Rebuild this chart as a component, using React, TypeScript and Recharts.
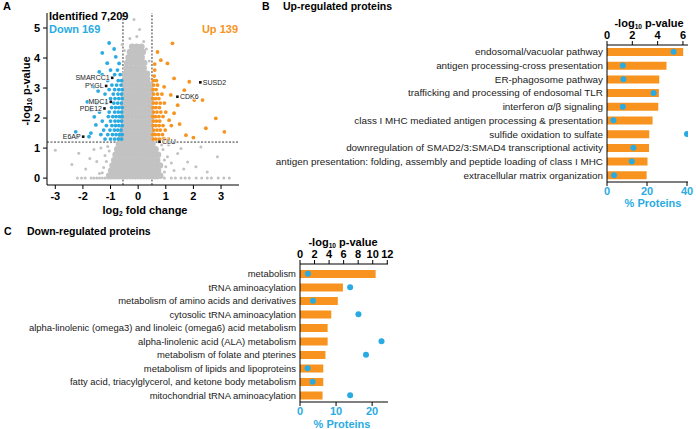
import React from "react";
import {
  ScatterChart,
  Scatter,
  XAxis,
  YAxis,
  ReferenceLine,
  ComposedChart,
  Bar,
  Line,
} from "recharts";

const ORANGE = "#F7931E";
const CYAN = "#29ABE2";
const GRAY = "#C2C2C2";
const FONT = "'Liberation Sans', Arial, Helvetica, sans-serif";

// ---- panel A: volcano plot ----
const volcanoXTicks = [-3, -2, -1, 0, 1, 2, 3];
const volcanoYTicks = [0, 1, 2, 3, 4, 5];
const foldCutoffs = [-0.55, 0.5];
const pCutoff = 1.2;

// dense grey cloud, one row per -log10 p level: [y, x values]
const grayRows: [number, number[]][] = [
  [0.08, [-1.05, -0.9, -0.74, -0.58, -0.43, -0.27, -0.12, 0.03, 0.18, 0.33, 0.49, 0.64, 0.8]],
  [0.25, [-0.98, -0.82, -0.66, -0.5, -0.35, -0.2, -0.05, 0.11, 0.26, 0.41, 0.57, 0.72]],
  [0.42, [-0.93, -0.77, -0.61, -0.46, -0.3, -0.14, 0.01, 0.17, 0.32, 0.48, 0.63, 0.79]],
  [0.6, [-0.87, -0.71, -0.55, -0.4, -0.24, -0.09, 0.07, 0.22, 0.38, 0.53, 0.69]],
  [0.78, [-0.82, -0.66, -0.5, -0.35, -0.19, -0.03, 0.12, 0.28, 0.43, 0.58, 0.72]],
  [0.96, [-0.76, -0.61, -0.45, -0.3, -0.14, 0.02, 0.17, 0.33, 0.48, 0.63]],
  [1.14, [-0.7, -0.56, -0.4, -0.25, -0.09, 0.06, 0.22, 0.37, 0.52]],
  [1.32, [-0.63, -0.48, -0.33, -0.17, -0.02, 0.14, 0.29, 0.44]],
  [1.5, [-0.57, -0.42, -0.26, -0.11, 0.05, 0.2, 0.35, 0.48]],
  [1.68, [-0.54, -0.38, -0.22, -0.07, 0.09, 0.24, 0.39]],
  [1.86, [-0.52, -0.36, -0.2, -0.04, 0.11, 0.27, 0.43]],
  [2.04, [-0.55, -0.4, -0.24, -0.08, 0.07, 0.22, 0.38, 0.49]],
  [2.22, [-0.5, -0.34, -0.18, -0.03, 0.13, 0.28, 0.44]],
  [2.4, [-0.53, -0.37, -0.21, -0.06, 0.1, 0.25, 0.41]],
  [2.58, [-0.49, -0.33, -0.17, -0.02, 0.14, 0.29, 0.45]],
  [2.76, [-0.52, -0.36, -0.2, -0.05, 0.11, 0.26, 0.42]],
  [2.94, [-0.48, -0.32, -0.16, 0.0, 0.15, 0.31, 0.46]],
  [3.12, [-0.5, -0.34, -0.19, -0.03, 0.12, 0.28, 0.43]],
  [3.3, [-0.46, -0.3, -0.14, 0.01, 0.17, 0.33]],
  [3.48, [-0.47, -0.31, -0.15, 0.0, 0.16, 0.32]],
  [3.66, [-0.43, -0.27, -0.11, 0.04, 0.2]],
  [3.84, [-0.4, -0.24, -0.08, 0.08, 0.22]],
  [4.02, [-0.35, -0.19, -0.03, 0.13]],
  [4.2, [-0.3, -0.13, 0.03, 0.17]],
  [4.38, [-0.22, -0.05, 0.12]],
];

// proteins with p = 1 sit on the zero line
const grayZeroRow = [
  -2.2, -2.05, -1.92, -1.7, -1.6, -1.5, -1.4, -1.3, -1.2, -1.1, -1.0, -0.9, -0.8, -0.7,
  -0.6, -0.5, -0.4, -0.3, -0.2, -0.1, 0, 0.1, 0.2, 0.3, 0.4, 0.5, 0.6, 0.7, 0.95, 1.2,
  1.35, 1.55, 1.7, 1.85, 2.1, 2.3, 2.5, 2.65, 2.9, 3.1, 3.3,
];

const graySparse: [number, number][] = [
  [-0.15, 5.28], [0.05, 4.95], [-0.3, 4.65], [0.2, 4.55], [-0.05, 4.72], [0.3, 4.3],
  [-0.5, 4.25], [0.4, 3.9], [-0.58, 4.45],
  [-1.25, 0.35], [-1.4, 0.15], [-1.2, 0.75], [-1.5, 0.55], [-1.75, 0.65], [-1.9, 0.3],
  [-2.15, 0.83], [-3.0, 0.93], [-1.35, 1.0], [-1.1, 1.05], [-1.6, 0.95], [-2.4, 0.45],
  [-1.15, 0.55], [-1.05, 0.9], [-1.3, 0.18],
  [0.95, 0.2], [1.0, 0.38], [1.06, 0.71], [0.9, 0.95], [1.2, 0.5], [1.43, 0.82],
  [1.55, 0.99], [1.79, 0.54], [2.09, 0.38], [2.27, 1.04], [2.87, 0.71], [1.3, 0.25],
  [0.85, 1.1], [1.1, 1.1], [0.95, 0.6], [1.65, 0.3], [2.5, 0.2],
];

const downRows: [number, number[]][] = [
  [1.3, [-0.6, -0.72, -0.85, -1.0, -1.2]],
  [1.45, [-0.58, -0.68, -0.8, -0.93, -1.1, -1.35]],
  [1.6, [-0.62, -0.74, -0.86, -1.02, -1.25]],
  [1.75, [-0.58, -0.7, -0.82, -0.95, -1.15]],
  [1.9, [-0.6, -0.72, -0.84, -1.0, -1.3]],
  [2.05, [-0.58, -0.68, -0.8, -0.92, -1.08]],
  [2.2, [-0.6, -0.72, -0.85, -1.05, -1.4]],
  [2.35, [-0.58, -0.7, -0.82, -0.96]],
  [2.5, [-0.61, -0.74, -0.88, -1.15, -1.5]],
  [2.65, [-0.58, -0.7, -0.84, -1.0]],
  [2.8, [-0.6, -0.73, -0.9, -1.2]],
  [2.95, [-0.58, -0.7, -0.85, -1.05]],
  [3.1, [-0.62, -0.78, -0.95]],
  [3.25, [-0.6, -0.72, -1.1]],
  [3.45, [-0.65, -0.85, -1.3]],
  [3.6, [-0.75, -1.0]],
];

const downSparse: [number, number][] = [
  [-1.05, 4.5], [-0.87, 4.3], [-1.3, 4.17], [-0.81, 4.04], [-1.12, 3.83], [-1.41, 3.54],
  [-0.69, 3.82], [-2.26, 1.54], [-2.2, 1.38], [-1.78, 1.38], [-1.71, 1.5], [-1.84, 2.54],
  [-1.71, 2.27], [-1.59, 2.04], [-1.53, 1.77], [-1.45, 2.9], [-1.6, 3.05],
];

const upRows: [number, number[]][] = [
  [1.3, [0.55, 0.65, 0.78, 0.92, 1.1]],
  [1.45, [0.53, 0.62, 0.74, 0.88]],
  [1.6, [0.56, 0.68, 0.8, 0.98]],
  [1.75, [0.54, 0.64, 0.76, 0.9, 1.2]],
  [1.9, [0.55, 0.66, 0.78]],
  [2.05, [0.53, 0.63, 0.75, 0.9]],
  [2.2, [0.56, 0.68, 0.82, 1.0]],
  [2.35, [0.54, 0.64, 0.77]],
  [2.5, [0.55, 0.66, 0.8, 0.95]],
  [2.65, [0.53, 0.63, 0.75]],
  [2.8, [0.56, 0.7, 0.86]],
  [2.95, [0.54, 0.65]],
  [3.1, [0.56, 0.7]],
  [3.25, [0.55, 0.66]],
  [3.4, [0.58]],
  [3.6, [0.6]],
];

const upSparse: [number, number][] = [
  [1.24, 4.49], [1.06, 3.82], [0.82, 3.93], [1.3, 3.32], [1.67, 2.93], [1.85, 3.21],
  [2.03, 2.6], [2.33, 2.6], [2.81, 1.99], [2.45, 1.66], [3.12, 1.54], [1.73, 1.43],
  [1.3, 2.16], [1.12, 1.93], [1.43, 2.43], [1.18, 2.77], [0.94, 3.04], [0.7, 4.2],
  [0.6, 3.8], [1.5, 1.8], [2.0, 1.35], [0.95, 1.3],
];

const labelledNames = ["SMARCC1", "PYGL", "MDC1", "PDE12", "E6AP", "CLU", "CDK6", "SUSD2"];
const labelledFold = [-0.94, -1.16, -0.99, -1.22, -1.99, 0.77, 1.42, 2.25];
const labelledLogP = [3.34, 3.07, 2.54, 2.32, 1.38, 1.21, 2.71, 3.19];

// ---- panels B and C: pathway enrichment ----
const upPathways = [
  "endosomal/vacuolar pathway",
  "antigen processing-cross presentation",
  "ER-phagosome pathway",
  "trafficking and processing of endosomal TLR",
  "interferon α/β signaling",
  "class I MHC mediated antigen processing & presentation",
  "sulfide oxidation to sulfate",
  "downregulation of SMAD2/3:SMAD4 transcriptional activity",
  "antigen presentation: folding, assembly and peptide loading of class I MHC",
  "extracellular matrix organization",
];
const upLogP = [6.02, 4.7, 4.13, 4.1, 4.05, 3.6, 3.34, 3.32, 3.2, 3.13];
const upPct = [33.3, 7.9, 8.2, 23.3, 7.9, 3.2, 40, 13.2, 12.4, 3.5];

const downPathways = [
  "metabolism",
  "tRNA aminoacylation",
  "metabolism of amino acids and derivatives",
  "cytosolic tRNA aminoacylation",
  "alpha-linolenic (omega3) and linoleic (omega6) acid metabolism",
  "alpha-linolenic acid (ALA) metabolism",
  "metabolism of folate and pterines",
  "metabolism of lipids and lipoproteins",
  "fatty acid, triacylglycerol, and ketone body metabolism",
  "mitochondrial tRNA aminoacylation",
];
const downLogP = [10.4, 5.9, 5.2, 4.3, 3.8, 3.8, 3.5, 3.2, 3.2, 3.1];
const downPct: (number | null)[] = [2.2, 13.9, 3.6, 16.2, null, 22.6, 18.3, 2.1, 3.5, 13.9];

const fromRows = (rows: [number, number[]][]) =>
  rows.flatMap(([y, xs]) => xs.map((x) => ({ x, y })));
const fromPairs = (pairs: [number, number][]) => pairs.map(([x, y]) => ({ x, y }));

const grayCore = fromRows(grayRows);
const grayZero = grayZeroRow.map((x) => ({ x, y: 0 }));
const grayOuter = fromPairs(graySparse);
const downPts = [...fromRows(downRows), ...fromPairs(downSparse)];
const upPts = [...fromRows(upRows), ...fromPairs(upSparse)];
const labelled = labelledNames.map((name, i) => ({
  name,
  x: labelledFold[i],
  y: labelledLogP[i],
}));

const upData = upPathways.map((name, i) => ({ name, p: upLogP[i], pct: upPct[i] }));
const downData = downPathways.map((name, i) => ({ name, p: downLogP[i], pct: downPct[i] }));

const dot = (r: number, fill: string) => (props: any) =>
  props.cx == null ? <g /> : <circle cx={props.cx} cy={props.cy} r={r} fill={fill} />;

const labelShape = (props: any) => {
  if (props.cx == null) return <g />;
  const left = props.payload.x < 0;
  return (
    <g>
      <rect x={props.cx - 1.3} y={props.cy - 1.3} width={2.6} height={2.6} fill="#111" />
      <text
        x={left ? props.cx - 2.5 : props.cx + 2.5}
        y={props.cy}
        dy="0.35em"
        textAnchor={left ? "end" : "start"}
        fontSize={7}
        fontFamily={FONT}
        fill="#222"
        stroke="#fff"
        strokeWidth={1.2}
        paintOrder="stroke"
      >
        {props.payload.name}
      </text>
    </g>
  );
};

const boldTick = (color: string) => ({
  fontSize: 11,
  fontWeight: 700,
  fill: color,
  fontFamily: FONT,
});

function Txt({
  x,
  y,
  align = "left",
  size = 11,
  bold = true,
  color = "#000",
  rotate = false,
  children,
}: any) {
  const tx = align === "center" ? "-50%" : align === "right" ? "-100%" : "0";
  return (
    <div
      style={{
        position: "absolute",
        left: x,
        top: y,
        transform: rotate
          ? "translate(-50%, -50%) rotate(-90deg)"
          : `translate(${tx}, -50%)`,
        fontSize: size,
        fontWeight: bold ? 700 : 400,
        color,
        whiteSpace: "nowrap",
        lineHeight: 1,
        fontFamily: FONT,
      }}
    >
      {children}
    </div>
  );
}

const sub = { fontSize: "0.6em", verticalAlign: "-0.25em" };

function Volcano() {
  return (
    <div style={{ position: "absolute", left: 0, top: 0 }}>
      <ScatterChart
        width={245}
        height={215}
        margin={{ top: 13, right: 6, bottom: 10, left: 17 }}
      >
        <XAxis
          type="number"
          dataKey="x"
          domain={[-3.3, 3.65]}
          ticks={volcanoXTicks}
          allowDataOverflow
          height={20}
          tickSize={4}
          tickMargin={3}
          axisLine={{ stroke: "#000" }}
          tickLine={{ stroke: "#000" }}
          tick={boldTick("#000")}
        />
        <YAxis
          type="number"
          dataKey="y"
          domain={[-0.23, 5.5]}
          ticks={volcanoYTicks}
          allowDataOverflow
          width={30}
          tickSize={4}
          tickMargin={3}
          axisLine={{ stroke: "#000" }}
          tickLine={{ stroke: "#000" }}
          tick={boldTick("#000")}
        />
        <Scatter data={grayCore} shape={dot(3.2, GRAY)} isAnimationActive={false} />
        <Scatter data={grayOuter} shape={dot(1.5, GRAY)} isAnimationActive={false} />
        <Scatter data={grayZero} shape={dot(1.5, GRAY)} isAnimationActive={false} />
        <Scatter data={downPts} shape={dot(1.9, CYAN)} isAnimationActive={false} />
        <Scatter data={upPts} shape={dot(1.9, ORANGE)} isAnimationActive={false} />
        {foldCutoffs.map((v) => (
          <ReferenceLine key={v} x={v} stroke="#222" strokeDasharray="2 1.5" strokeWidth={0.9} />
        ))}
        <ReferenceLine y={pCutoff} stroke="#222" strokeDasharray="2 1.5" strokeWidth={0.9} />
        <Scatter data={labelled} shape={labelShape} isAnimationActive={false} />
      </ScatterChart>
    </div>
  );
}

function Enrichment({
  data,
  left,
  top,
  width,
  height,
  yWidth,
  labelSize,
  pDomain,
  pTicks,
  pctDomain,
  pctTicks,
  padTop,
}: any) {
  const catTick = (props: any) => (
    <text
      x={props.x}
      y={props.y}
      dy="0.35em"
      textAnchor="end"
      fontSize={labelSize}
      fontFamily={FONT}
      fill="#1a1a1a"
    >
      {props.payload.value}
    </text>
  );
  return (
    <div style={{ position: "absolute", left, top }}>
      <ComposedChart
        layout="vertical"
        width={width}
        height={height}
        data={data}
        margin={{ top: 0, right: 8, bottom: 0, left: 0 }}
        barCategoryGap={0}
      >
        <XAxis
          xAxisId="p"
          orientation="top"
          type="number"
          domain={pDomain}
          ticks={pTicks}
          allowDataOverflow
          height={30}
          tickSize={4}
          tickMargin={2}
          interval={0}
          axisLine={{ stroke: "#000" }}
          tickLine={{ stroke: "#000" }}
          tick={boldTick("#000")}
        />
        <XAxis
          xAxisId="pct"
          orientation="bottom"
          type="number"
          domain={pctDomain}
          ticks={pctTicks}
          allowDataOverflow
          height={20}
          tickSize={4}
          tickMargin={1}
          axisLine={{ stroke: "#000" }}
          tickLine={{ stroke: "#000" }}
          tick={boldTick(CYAN)}
        />
        <YAxis
          type="category"
          dataKey="name"
          width={yWidth}
          interval={0}
          tickSize={0}
          tickMargin={4}
          tickLine={false}
          axisLine={{ stroke: "#000" }}
          padding={{ top: padTop, bottom: 0 }}
          tick={catTick}
        />
        <Bar xAxisId="p" dataKey="p" fill={ORANGE} barSize={8} isAnimationActive={false} />
        <Line
          xAxisId="pct"
          dataKey="pct"
          stroke="none"
          dot={{ r: 3, fill: CYAN, stroke: "none" }}
          activeDot={false}
          isAnimationActive={false}
        />
      </ComposedChart>
    </div>
  );
}

export default function App() {
  return (
    <div
      style={{
        position: "absolute",
        left: 0,
        top: 0,
        width: 696,
        height: 429,
        background: "#fff",
        overflow: "hidden",
        fontFamily: FONT,
      }}
    >
      <Volcano />
      <Txt x={3} y={6} size={11}>A</Txt>
      <Txt x={49} y={16} size={11}>Identified 7,209</Txt>
      <Txt x={49} y={29} size={11} color={CYAN}>Down 169</Txt>
      <Txt x={238} y={29} size={11} color={ORANGE} align="right">Up 139</Txt>
      <Txt x={27} y={91} size={11} rotate>
        -log<span style={sub}>10</span> p-value
      </Txt>
      <Txt x={145} y={211} size={11} align="center">
        log<span style={sub}>2</span> fold change
      </Txt>

      <Txt x={262} y={6} size={10.5}>B</Txt>
      <Txt x={283} y={6} size={10.5}>Up-regulated proteins</Txt>
      <Enrichment
        data={upData}
        left={266}
        top={15}
        width={430}
        height={187}
        yWidth={341}
        labelSize={9.9}
        pDomain={[0, 6.4]}
        pTicks={[0, 2, 4, 6]}
        pctDomain={[0, 40.5]}
        pctTicks={[0, 20, 40]}
        padTop={0}
      />
      <Txt x={649} y={24} size={11} align="center">
        -log<span style={sub}>10</span> p-value
      </Txt>
      <Txt x={653} y={203} size={11} align="center" color={CYAN}>% Proteins</Txt>

      <Txt x={4} y={231} size={10.5}>C</Txt>
      <Txt x={27} y={231} size={10.5}>Down-regulated proteins</Txt>
      <Enrichment
        data={downData}
        left={5}
        top={234}
        width={391}
        height={188}
        yWidth={295}
        labelSize={9.45}
        pDomain={[0, 12.1]}
        pTicks={[0, 2, 4, 6, 8, 10, 12]}
        pctDomain={[0, 24.4]}
        pctTicks={[0, 10, 20]}
        padTop={3}
      />
      <Txt x={343} y={243} size={11} align="center">
        -log<span style={sub}>10</span> p-value
      </Txt>
      <Txt x={342} y={424} size={11} align="center" color={CYAN}>% Proteins</Txt>
    </div>
  );
}
